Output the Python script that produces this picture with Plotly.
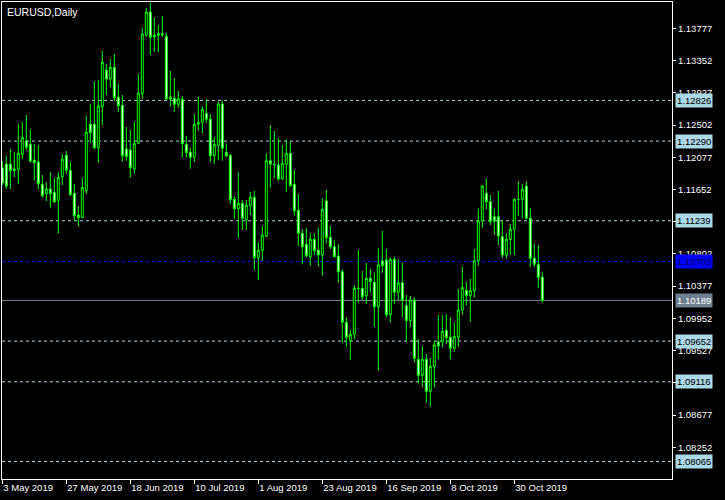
import plotly.graph_objects as go
import pandas as pd

# ---- data (EURUSD daily) ----
opens = [1.11935,1.11988,1.11984,1.11922,1.11918,1.12115,1.12295,1.12247,1.12040,1.12014,
         1.11720,1.11596,1.11658,1.11614,1.11509,1.11820,1.12102,1.11904,1.11601,1.11315,
         1.11279,1.11635,1.12511,1.12511,1.12202,1.12743,1.13227,1.13108,1.13263,1.12867,
         1.12762,1.12185,1.12172,1.11922,1.12261,1.12915,1.13689,1.13992,1.13689,1.13706,
         1.13706,1.13671,1.12871,1.12854,1.12775,1.12841,1.12247,1.12142,1.12076,1.12511,
         1.12537,1.12656,1.12577,1.12097,1.12229,1.12779,1.12142,1.12102,1.11522,1.11398,
         1.11469,1.11253,1.11438,1.11548,1.10752,1.10850,1.11034,1.12031,1.11984,1.11974,
         1.11790,1.11984,1.12129,1.11720,1.11377,1.11074,1.10929,1.10765,1.10995,1.10850,
         1.10788,1.11500,1.11021,1.10897,1.10774,1.10567,1.09900,1.09658,1.09742,1.10349,
         1.10349,1.10251,1.10480,1.10428,1.10106,1.10709,1.10722,1.10000,1.10731,1.10296,
         1.10422,1.10119,1.09921,1.10194,1.09412,1.09201,1.09412,1.08990,1.09315,1.09640,
         1.09640,1.09795,1.09702,1.09557,1.09702,1.10062,1.10322,1.10251,1.10317,1.10712,
         1.11236,1.11601,1.11490,1.11293,1.11293,1.11029,1.10788,1.10995,1.11127,1.11522,
         1.11522,1.11697,1.11272,1.10744,1.10665,1.10494]
highs = [1.12027,1.12093,1.12185,1.12146,1.12515,1.12541,1.12634,1.12445,1.12251,1.12238,
         1.11842,1.11746,1.11882,1.11803,1.11878,1.12119,1.12159,1.12014,1.11724,1.11434,
         1.11803,1.12620,1.12779,1.13073,1.13095,1.13478,1.13306,1.13372,1.13438,1.13042,
         1.12897,1.12475,1.12436,1.12541,1.13174,1.13781,1.14045,1.14114,1.13917,1.13820,
         1.13939,1.13719,1.13214,1.13121,1.12950,1.12884,1.12357,1.12199,1.12647,1.12871,
         1.12752,1.12841,1.12647,1.12340,1.12809,1.12822,1.12261,1.12119,1.11566,1.11878,
         1.11513,1.11513,1.11618,1.11632,1.10955,1.11170,1.12129,1.12502,1.12423,1.12330,
         1.12238,1.12313,1.12282,1.11908,1.11592,1.11130,1.11148,1.11074,1.11074,1.11148,
         1.11539,1.11645,1.11170,1.10985,1.10929,1.10599,1.09966,1.09799,1.10392,1.10854,
         1.10577,1.10682,1.10603,1.10559,1.10876,1.11104,1.10867,1.10752,1.10765,1.10731,
         1.10686,1.10260,1.10247,1.10230,1.09680,1.09588,1.09482,1.09429,1.09658,1.09996,
         1.09996,1.10010,1.09966,1.09900,1.10339,1.10633,1.10432,1.10471,1.10867,1.11403,
         1.11711,1.11799,1.11579,1.11403,1.11632,1.11249,1.11074,1.11196,1.11535,1.11763,
         1.11724,1.11763,1.11403,1.10933,1.10919,1.10567]
lows = [1.11711,1.11658,1.11658,1.11816,1.11724,1.12050,1.12172,1.12005,1.11777,1.11654,
        1.11543,1.11500,1.11411,1.11477,1.11068,1.11711,1.11856,1.11566,1.11240,1.11161,
        1.11276,1.11592,1.12261,1.12181,1.12005,1.12502,1.12897,1.12999,1.12822,1.12677,
        1.12018,1.12031,1.11807,1.11860,1.12251,1.12845,1.13666,1.13425,1.13464,1.13464,
        1.13666,1.12831,1.12743,1.12677,1.12730,1.12071,1.12071,1.11926,1.12014,1.12423,
        1.12392,1.12532,1.12018,1.11991,1.12040,1.12031,1.12076,1.11456,1.11262,1.11012,
        1.11117,1.11117,1.11315,1.10590,1.10458,1.10709,1.11025,1.11675,1.11799,1.11767,
        1.11783,1.11622,1.11691,1.11306,1.10906,1.10665,1.10752,1.10647,1.10788,1.10633,
        1.10515,1.10942,1.10867,1.10757,1.10422,1.09631,1.09578,1.09403,1.09676,1.10159,
        1.10194,1.10142,1.10296,1.09842,1.09262,1.10554,1.09966,1.09900,1.10142,1.10194,
        1.09966,1.09644,1.09834,1.09367,1.09096,1.09043,1.08840,1.08787,1.09043,1.09412,
        1.09570,1.09614,1.09412,1.09512,1.09578,1.09996,1.10119,1.09908,1.10225,1.10647,
        1.11148,1.11390,1.11183,1.11051,1.10919,1.10744,1.10744,1.10788,1.10788,1.11302,
        1.11272,1.11258,1.10633,1.10633,1.10356,1.10159]
closes = [1.11737,1.11697,1.11899,1.11899,1.12129,1.12340,1.12208,1.12027,1.12005,1.11728,
          1.11570,1.11658,1.11596,1.11486,1.11812,1.12050,1.11908,1.11583,1.11306,1.11279,
          1.11680,1.12406,1.12400,1.12202,1.12752,1.13332,1.13108,1.13263,1.12862,1.12756,
          1.12097,1.12084,1.11939,1.12261,1.12920,1.13702,1.13992,1.13658,1.13666,1.13685,
          1.13692,1.12845,1.12845,1.12775,1.12849,1.12255,1.12139,1.12076,1.12511,1.12537,
          1.12709,1.12577,1.12097,1.12247,1.12779,1.12195,1.12097,1.11517,1.11398,1.11469,
          1.11272,1.11443,1.11548,1.10752,1.10850,1.11051,1.12031,1.11984,1.11981,1.11790,
          1.11997,1.12129,1.11701,1.11372,1.11074,1.10897,1.10778,1.10995,1.10844,1.10788,
          1.11390,1.11016,1.10897,1.10765,1.10567,1.09900,1.09702,1.09742,1.10349,1.10346,
          1.10238,1.10480,1.10436,1.10106,1.10656,1.10647,1.10000,1.10731,1.10296,1.10422,
          1.10194,1.09921,1.10194,1.09425,1.09201,1.09412,1.08990,1.09320,1.09601,1.09588,
          1.09781,1.09697,1.09557,1.09716,1.10062,1.10362,1.10251,1.10317,1.10712,1.11236,
          1.11697,1.11490,1.11227,1.11236,1.11038,1.10788,1.10995,1.11127,1.11522,1.11519,
          1.11654,1.11272,1.10744,1.10665,1.10494,1.10189]

date_labels = ["3 May 2019", "27 May 2019", "18 Jun 2019", "10 Jul 2019", "1 Aug 2019",
               "23 Aug 2019", "16 Sep 2019", "8 Oct 2019", "30 Oct 2019"]
price_ticks = [1.13777, 1.13352, 1.12927, 1.12502, 1.12077, 1.11652, 1.11227, 1.10802,
               1.10377, 1.09952, 1.09527, 1.09102, 1.08677, 1.08252]
level_prices = [1.12826, 1.12290, 1.11239, 1.09652, 1.09116, 1.08065]
alert_price = 1.10703
bid_price = 1.10189
symbol_title = "EURUSD,Daily"

# ---- build ----
dates = pd.bdate_range("2019-05-03", periods=len(opens))
idx = list(range(len(dates)))
tickvals = [dates.get_loc(pd.Timestamp(lbl)) for lbl in date_labels]

FONT = "Liberation Sans, Arial, sans-serif"
LIME = "#00FF00"

fig = go.Figure(go.Candlestick(
    x=idx, open=opens, high=highs, low=lows, close=closes,
    increasing=dict(line=dict(color=LIME, width=1), fillcolor="#000000"),
    decreasing=dict(line=dict(color=LIME, width=1), fillcolor="#FFFFFF"),
    whiskerwidth=0, hoverinfo="skip", showlegend=False,
))

shapes = []
for p in level_prices:
    shapes.append(dict(type="line", xref="paper", x0=0, x1=1, yref="y", y0=p, y1=p,
                       line=dict(color="#ADD8E6", width=1, dash="3px,3px"), layer="below"))
shapes.append(dict(type="line", xref="paper", x0=0, x1=1, yref="y", y0=alert_price, y1=alert_price,
                   line=dict(color="#0000FF", width=1, dash="3px,3px"), layer="below"))
shapes.append(dict(type="line", xref="paper", x0=0, x1=1, yref="y", y0=bid_price, y1=bid_price,
                   line=dict(color="#778899", width=1), layer="below"))

annotations = []
for p in level_prices:
    annotations.append(dict(xref="paper", x=1, xanchor="left", xshift=3, yref="y", y=p,
                            text=f"{p:.5f}", showarrow=False, bgcolor="#ADD8E6",
                            font=dict(family=FONT, size=9.5, color="#000000"), borderpad=1))
annotations.append(dict(xref="paper", x=1, xanchor="left", xshift=3, yref="y", y=alert_price,
                        text=f"{alert_price:.5f}", showarrow=False, bgcolor="#0000FF",
                        font=dict(family=FONT, size=9.5, color="#000050"), borderpad=1))
annotations.append(dict(xref="paper", x=1, xanchor="left", xshift=3, yref="y", y=bid_price,
                        text=f"{bid_price:.5f}", showarrow=False, bgcolor="#708090",
                        font=dict(family=FONT, size=9.5, color="#FFFFFF"), borderpad=1))
annotations.append(dict(xref="paper", yref="paper", x=0, y=1, xanchor="left", yanchor="top",
                        xshift=3, yshift=-2, text=symbol_title, showarrow=False,
                        font=dict(family=FONT, size=10.5, color="#FFFFFF")))

fig.update_layout(
    width=725, height=500,
    margin=dict(l=2, r=53, t=2, b=21),
    paper_bgcolor="#000000", plot_bgcolor="#000000",
    font=dict(family=FONT, size=9.5, color="#FFFFFF"),
    shapes=shapes, annotations=annotations,
    xaxis=dict(range=[-0.075, 167.425], rangeslider=dict(visible=False),
               tickvals=tickvals, ticktext=date_labels, ticks="outside", ticklen=4,
               tickcolor="#FFFFFF", ticklabelposition="outside right",
               showgrid=False, zeroline=False, showline=True, linecolor="#FFFFFF",
               linewidth=1, mirror=True, tickfont=dict(family=FONT, size=9.5, color="#FFFFFF")),
    yaxis=dict(range=[1.07834, 1.14124], side="right", tickvals=price_ticks,
               ticktext=[f"{v:.5f}" for v in price_ticks], ticks="outside", ticklen=3,
               tickcolor="#FFFFFF", showgrid=False, zeroline=False, showline=True,
               linecolor="#FFFFFF", linewidth=1, mirror=True,
               tickfont=dict(family=FONT, size=9.5, color="#FFFFFF")),
)

fig.write_html(
    "out.html",
    config={"displayModeBar": False},
    post_script="document.body.style.margin='0';document.body.style.padding='0';"
                "document.body.style.background='#000';document.body.style.overflow='hidden';",
)
